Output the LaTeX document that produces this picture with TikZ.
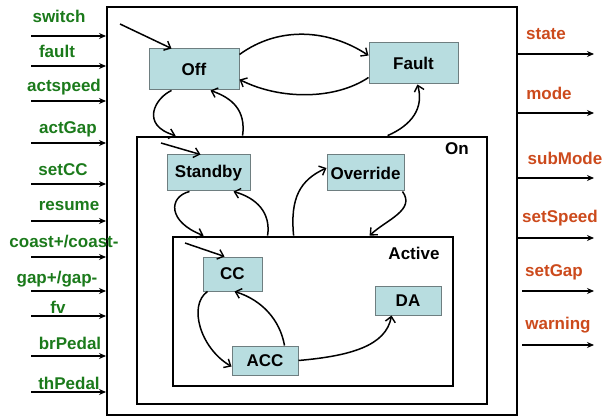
\documentclass[tikz,border=0pt]{standalone}
\usepackage{fontspec}
\setmainfont{Liberation Sans}
\usetikzlibrary{arrows.meta}
\definecolor{sigin}{HTML}{1B7A1B}
\definecolor{sigout}{HTML}{CC4A1C}
\definecolor{statefill}{HTML}{B8DDE0}
\definecolor{stateedge}{HTML}{6E7E80}
\tikzset{
  statebox/.style={draw=stateedge, fill=statefill, line width=1pt, inner sep=0pt,
    font=\fontsize{17}{19}\selectfont\bfseries},
  frame/.style={draw=black, inner sep=0pt},
  trans/.style={line width=1.5pt, -{Straight Barb[length=5.5pt,width=10pt,line width=1.4pt]}},
  sig/.style={line width=1.5pt, -{Stealth[length=7pt,width=6pt]}},
  inlabel/.style={text=sigin, font=\fontsize{17}{19}\selectfont\bfseries, inner sep=0pt},
  outlabel/.style={text=sigout, font=\fontsize{17}{19}\selectfont\bfseries, inner sep=0pt},
  boxlabel/.style={font=\fontsize{17}{19}\selectfont\bfseries, inner sep=0pt},
}
\begin{document}
\begin{tikzpicture}[x=1pt, y=-1pt]
\useasboundingbox (0,0) rectangle (603,417);

% enclosing block and nested super-states
\node[frame, line width=2pt, minimum width=410pt, minimum height=408pt] (sys) at (312,211) {};
\node[frame, line width=2.8pt, minimum width=350pt, minimum height=267pt] (on) at (312,270.5) {};
\node[frame, line width=2.8pt, minimum width=280pt, minimum height=149pt] (active) at (313,311.5) {};
\node[boxlabel] (onlbl) at (457,149) {On};
\node[boxlabel] (activelbl) at (414,253) {Active};

% states
\node[statebox, minimum width=90pt, minimum height=41pt] (off) at (194,69.5) {Off};
\node[statebox, minimum width=89pt, minimum height=41pt] (fault) at (413.5,63.5) {Fault};
\node[statebox, minimum width=83pt, minimum height=36pt] (standby) at (208.5,173) {Standby};
\node[statebox, minimum width=77pt, minimum height=36pt] (override) at (365.5,173) {Override};
\node[statebox, minimum width=59pt, minimum height=34pt] (cc) at (232.5,274) {CC};
\node[statebox, minimum width=66pt, minimum height=29pt] (acc) at (265,360.5) {ACC};
\node[statebox, minimum width=66pt, minimum height=29pt] (da) at (408,300.5) {DA};

% initial-state pointers
\coordinate (init1) at (120,24);
\coordinate (init2) at (161,143);
\coordinate (init3) at (185,243);
\draw[trans] (init1) -- ([xshift=23pt]off.north west);
\draw[trans] (init2) -- ([xshift=34pt]standby.north west);
\draw[trans] (init3) -- ([xshift=22pt]cc.north west);

% transitions
\draw[trans] ([yshift=15pt]off.east) .. controls (280,25) and (330,30) .. ([yshift=8pt]fault.west);
\draw[trans] ([yshift=-14pt]fault.west) .. controls (335,100) and (280,100) .. ([yshift=-10pt]off.east);
\draw[trans] ([xshift=23pt]off.south west) .. controls (155,98) and (140,125) .. ([xshift=40pt]on.north west);
\draw[trans] ([xshift=107pt]on.north west) .. controls (246,110) and (232,98) .. ([xshift=62pt]off.south west);
\draw[trans] ([xshift=252pt]on.north west) .. controls (412,125) and (424,108) .. ([xshift=49pt]fault.south west);
\draw[trans] ([xshift=23pt]standby.south west) .. controls (168,197) and (168,222) .. ([xshift=32pt]active.north west);
\draw[trans] ([xshift=96pt]active.north west) .. controls (271,212) and (256,198) .. ([xshift=67pt]standby.south west);
\draw[trans] ([xshift=122pt]active.north west) .. controls (290,198) and (300,180) .. ([yshift=5pt]override.west);
\draw[trans] ([xshift=-2pt]override.south east) .. controls (416,210) and (386,220) .. ([xshift=198pt]active.north west);
\draw[trans] ([xshift=5pt]cc.south west) .. controls (188,305) and (200,348) .. ([yshift=-6pt]acc.west);
\draw[trans] ([xshift=53pt]acc.north west) .. controls (280,320) and (262,300) .. ([xshift=32pt]cc.south west);
\draw[trans] (acc.east) .. controls (350,356) and (386,346) .. ([xshift=17pt]da.south west);

% input signals
\foreach \name/\txt/\lx/\ly/\ay in {
  iswitch/switch/59/16/36, ifault/fault/57/51/66, iactspeed/actspeed/64/87/101,
  iactgap/actGap/68/129/143, isetcc/setCC/63/170/184, iresume/resume/69/206/221,
  icoast/{coast+/coast-}/64/242/257, igap/{gap+/gap-}/57/279/291, ifv/fv/58/307/316,
  ibr/brPedal/70/343/356, ith/thPedal/69/383/392} {
  \node[inlabel] (\name) at (\lx,\ly) {\txt};
  \coordinate (\name src) at (31,\ay);
  \draw[sig] (\name src) -- (\name src -| sys.west);
}

% output signals
\foreach \name/\txt/\lx/\ly/\ay/\gap in {
  ostate/state/546/34/54/0, omode/mode/549/93/113/0, osub/subMode/565/158/178/0,
  ospeed/setSpeed/560/218/238/0, ogap/setGap/554/272/291/4, owarn/warning/558/325/345/4} {
  \node[outlabel] (\name) at (\lx,\ly) {\txt};
  \coordinate (\name dst) at (594,\ay);
  \draw[sig] ([xshift=\gap pt]\name dst -| sys.east) -- (\name dst);
}
\end{tikzpicture}
\end{document}
